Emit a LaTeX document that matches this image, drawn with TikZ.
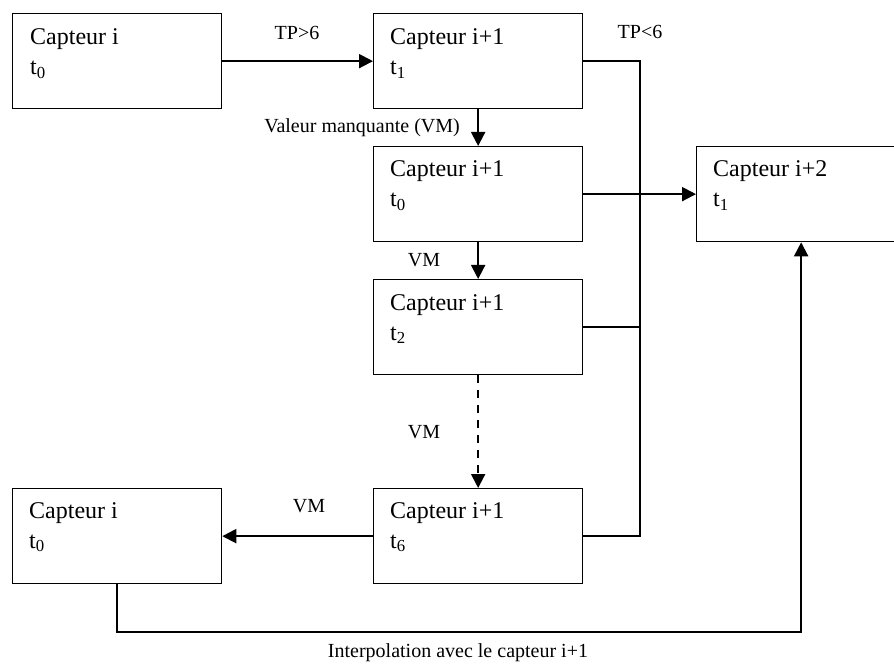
\documentclass[tikz,border=0pt]{standalone}
\usepackage{fontspec}
\setmainfont{Liberation Serif}
\usetikzlibrary{arrows.meta}
\begin{document}
\begin{tikzpicture}[x=1pt,y=-1pt,
  box/.style={draw, line width=1.3pt, minimum width=209pt, minimum height=95pt, inner sep=0pt, anchor=north west},
  btxt/.style={anchor=base west, inner sep=0pt, font=\fontsize{24}{24}\selectfont},
  lbl/.style={inner sep=0pt, font=\fontsize{20}{20}\selectfont},
  conn/.style={line width=2pt},
  tip/.style={-{Triangle[length=14pt,width=14pt]}}]
\useasboundingbox (0,0) rectangle (894,668);
\clip (0,0) rectangle (894,668);
% boxes
\node[box] (A) at (12,13) {};
\node[box] (B) at (373,13) {};
\node[box] (C) at (373,146) {};
\node[box] (D) at (373,279) {};
\node[box] (E) at (373,488) {};
\node[box] (F) at (12,488) {};
\node[box] (G) at (696,146) {};
% box texts
\node[btxt] (A1) at (30,45) {Capteur i};
\node[btxt] (A2) at (30,75) {t\textsubscript{0}};
\node[btxt] (B1) at (390,45) {Capteur i+1};
\node[btxt] (B2) at (390,75) {t\textsubscript{1}};
\node[btxt] (C1) at (390,177) {Capteur i+1};
\node[btxt] (C2) at (390,207) {t\textsubscript{0}};
\node[btxt] (D1) at (390,310) {Capteur i+1};
\node[btxt] (D2) at (390,340) {t\textsubscript{2}};
\node[btxt] (E1) at (390,518) {Capteur i+1};
\node[btxt] (E2) at (390,548) {t\textsubscript{6}};
\node[btxt] (F1) at (29,518) {Capteur i};
\node[btxt] (F2) at (29,548) {t\textsubscript{0}};
\node[btxt] (G1) at (713,177) {Capteur i+2};
\node[btxt] (G2) at (713,207) {t\textsubscript{1}};
% helper coordinates
\coordinate (bus) at (640,0);
\coordinate (low) at (400,632);
% connectors
\draw[conn,tip] (A.east) -- (B.west);
\draw[conn,tip] (B.south) -- (C.north);
\draw[conn,tip] (C.south) -- (D.north);
\draw[conn,tip,dash pattern=on 8pt off 7pt] (D.south) -- (E.north);
\draw[conn,tip] (E.west) -- (F.east);
\draw[conn] (B.east) -- (B.east -| bus) -- (E.east -| bus) -- (E.east);
\draw[conn] (D.east) -- (D.east -| bus);
\draw[conn,tip] (C.east) -- (G.west);
\draw[conn,tip] (F.south) -- (F.south |- low) -| (G.south);
% labels
\node[lbl,anchor=base] (L1) at (297,40) {TP>6};
\node[lbl,anchor=base] (L2) at (640,39) {TP<6};
\node[lbl,anchor=base east] (L3) at (460,133) {Valeur manquante (VM)};
\node[lbl,anchor=base] (L4) at (424,267) {VM};
\node[lbl,anchor=base] (L5) at (424,438) {VM};
\node[lbl,anchor=base] (L6) at (309,512) {VM};
\node[lbl,anchor=base] (L7) at (458,657) {Interpolation avec le capteur i+1};
\end{tikzpicture}
\end{document}
